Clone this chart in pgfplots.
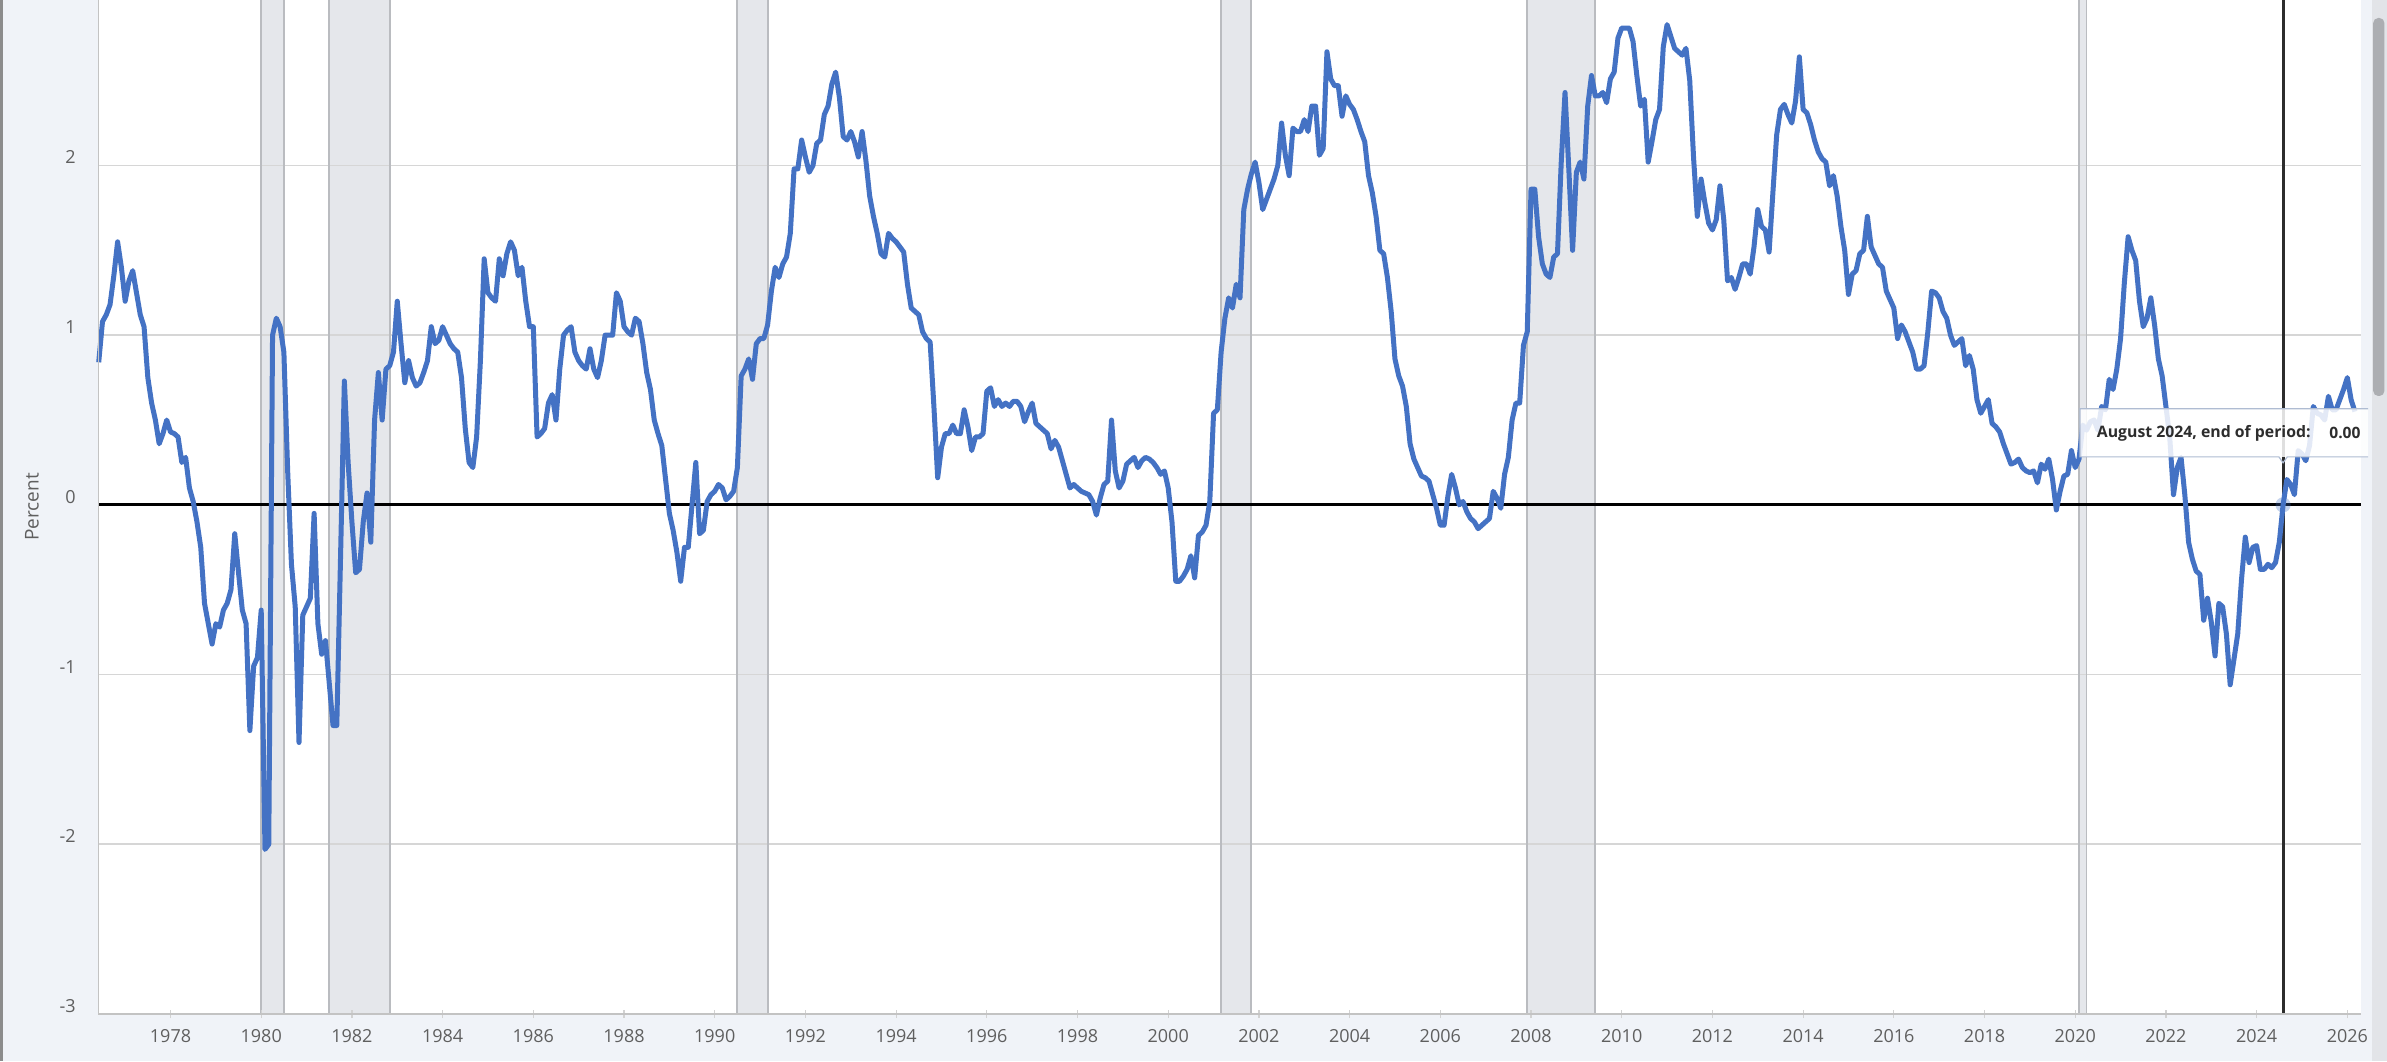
\documentclass[border=0pt]{standalone}
\usepackage{fontspec}
\setmainfont{Open Sans}
\usepackage{pgfplots}
\usepackage{pgfplotstable}
\pgfplotsset{compat=1.18}
\definecolor{bgcol}{RGB}{240,243,248}
\definecolor{lineblue}{RGB}{68,114,196}
\definecolor{gridcol}{RGB}{214,214,214}
\definecolor{recfill}{RGB}{229,231,235}
\definecolor{recline}{RGB}{186,188,192}
\definecolor{axcol}{RGB}{195,195,195}
\definecolor{labcol}{RGB}{95,95,95}
\definecolor{ttborder}{RGB}{175,188,210}
\definecolor{tttext}{RGB}{45,45,45}
\definecolor{hovercol}{RGB}{45,45,45}
\definecolor{thumbcol}{RGB}{172,174,178}
\definecolor{trackcol}{RGB}{226,228,232}
\definecolor{edgecol}{RGB}{140,140,140}

% monthly values, June 1976 onward
\pgfplotstableread[row sep=\\]{
v\\
0.84\\1.08\\1.12\\1.18\\1.35\\1.55\\1.40\\
1.20\\1.32\\1.38\\1.25\\1.12\\1.05\\0.75\\0.60\\0.50\\0.36\\0.42\\0.50\\
0.43\\0.42\\0.40\\0.25\\0.28\\0.10\\0.02\\-0.10\\-0.25\\-0.58\\-0.70\\-0.82\\
-0.70\\-0.72\\-0.62\\-0.58\\-0.50\\-0.17\\-0.40\\-0.62\\-0.70\\-1.33\\-0.95\\-0.90\\
-0.62\\-2.03\\-2.00\\1.00\\1.10\\1.05\\0.90\\0.20\\-0.35\\-0.60\\-1.40\\-0.65\\
-0.60\\-0.55\\-0.05\\-0.70\\-0.88\\-0.80\\-1.05\\-1.30\\-1.30\\-0.30\\0.73\\0.25\\
-0.10\\-0.40\\-0.38\\-0.10\\0.07\\-0.22\\0.50\\0.78\\0.50\\0.80\\0.82\\0.90\\
1.20\\0.95\\0.72\\0.85\\0.75\\0.70\\0.72\\0.78\\0.85\\1.05\\0.95\\0.97\\
1.05\\1.00\\0.95\\0.92\\0.90\\0.75\\0.45\\0.25\\0.22\\0.40\\0.85\\1.45\\
1.25\\1.22\\1.20\\1.45\\1.35\\1.48\\1.55\\1.50\\1.35\\1.40\\1.20\\1.05\\
1.05\\0.40\\0.42\\0.45\\0.60\\0.65\\0.50\\0.80\\1.00\\1.03\\1.05\\0.90\\
0.85\\0.82\\0.80\\0.92\\0.80\\0.75\\0.85\\1.00\\1.00\\1.00\\1.25\\1.20\\
1.05\\1.02\\1.00\\1.10\\1.08\\0.95\\0.78\\0.68\\0.50\\0.42\\0.35\\0.15\\
-0.05\\-0.15\\-0.28\\-0.45\\-0.25\\-0.25\\0.00\\0.25\\-0.17\\-0.15\\0.02\\0.06\\
0.08\\0.12\\0.10\\0.03\\0.05\\0.08\\0.22\\0.76\\0.80\\0.86\\0.74\\0.95\\
0.98\\0.98\\1.06\\1.26\\1.40\\1.34\\1.42\\1.46\\1.60\\1.98\\1.98\\2.15\\
2.05\\1.96\\2.00\\2.13\\2.15\\2.30\\2.35\\2.48\\2.55\\2.40\\2.17\\2.15\\
2.20\\2.14\\2.05\\2.20\\2.03\\1.82\\1.70\\1.60\\1.48\\1.46\\1.60\\1.57\\
1.55\\1.52\\1.49\\1.30\\1.16\\1.14\\1.12\\1.02\\0.98\\0.96\\0.58\\0.16\\
0.34\\0.42\\0.42\\0.47\\0.42\\0.42\\0.56\\0.46\\0.32\\0.40\\0.40\\0.42\\
0.67\\0.69\\0.58\\0.62\\0.58\\0.60\\0.58\\0.61\\0.61\\0.58\\0.49\\0.55\\
0.60\\0.48\\0.46\\0.44\\0.42\\0.33\\0.38\\0.34\\0.26\\0.18\\0.10\\0.12\\
0.10\\0.08\\0.07\\0.06\\0.02\\-0.06\\0.04\\0.12\\0.14\\0.50\\0.20\\0.10\\
0.14\\0.24\\0.26\\0.28\\0.22\\0.26\\0.28\\0.27\\0.25\\0.22\\0.18\\0.20\\
0.10\\-0.10\\-0.45\\-0.45\\-0.42\\-0.38\\-0.30\\-0.43\\-0.18\\-0.16\\-0.12\\0.02\\
0.54\\0.56\\0.90\\1.10\\1.22\\1.16\\1.30\\1.22\\1.74\\1.86\\1.95\\2.02\\
1.90\\1.74\\1.80\\1.86\\1.92\\2.00\\2.25\\2.06\\1.94\\2.22\\2.20\\2.20\\
2.27\\2.20\\2.35\\2.35\\2.06\\2.10\\2.67\\2.51\\2.47\\2.47\\2.29\\2.41\\
2.36\\2.33\\2.27\\2.20\\2.14\\1.94\\1.84\\1.70\\1.50\\1.48\\1.34\\1.14\\
0.86\\0.76\\0.70\\0.58\\0.36\\0.27\\0.22\\0.17\\0.16\\0.14\\0.06\\-0.02\\
-0.12\\-0.12\\0.05\\0.18\\0.10\\0.00\\0.02\\-0.04\\-0.08\\-0.10\\-0.14\\-0.12\\
-0.10\\-0.08\\0.08\\0.04\\-0.02\\0.18\\0.28\\0.50\\0.60\\0.60\\0.94\\1.02\\
1.86\\1.86\\1.58\\1.42\\1.36\\1.34\\1.46\\1.48\\2.02\\2.43\\1.98\\1.50\\
1.96\\2.02\\1.92\\2.35\\2.53\\2.41\\2.41\\2.43\\2.37\\2.51\\2.55\\2.75\\
2.81\\2.81\\2.81\\2.73\\2.53\\2.35\\2.39\\2.02\\2.14\\2.27\\2.33\\2.70\\
2.83\\2.76\\2.69\\2.67\\2.65\\2.69\\2.50\\2.05\\1.70\\1.92\\1.78\\1.66\\
1.62\\1.68\\1.88\\1.68\\1.32\\1.34\\1.27\\1.34\\1.42\\1.42\\1.36\\1.52\\
1.74\\1.64\\1.62\\1.49\\1.84\\2.18\\2.33\\2.36\\2.30\\2.25\\2.38\\2.64\\
2.33\\2.31\\2.24\\2.15\\2.08\\2.04\\2.02\\1.88\\1.94\\1.82\\1.64\\1.50\\
1.24\\1.36\\1.38\\1.48\\1.50\\1.70\\1.52\\1.47\\1.42\\1.40\\1.26\\1.21\\
1.16\\0.98\\1.06\\1.02\\0.96\\0.90\\0.80\\0.80\\0.82\\1.02\\1.26\\1.25\\
1.22\\1.14\\1.10\\1.00\\0.94\\0.96\\0.98\\0.82\\0.88\\0.80\\0.62\\0.54\\
0.58\\0.62\\0.48\\0.46\\0.43\\0.36\\0.30\\0.24\\0.25\\0.27\\0.22\\0.20\\
0.19\\0.20\\0.13\\0.24\\0.21\\0.27\\0.15\\-0.03\\0.08\\0.17\\0.18\\0.32\\
0.22\\0.27\\0.47\\0.44\\0.49\\0.50\\0.44\\0.58\\0.56\\0.74\\0.68\\0.80\\
0.98\\1.31\\1.58\\1.50\\1.44\\1.20\\1.05\\1.10\\1.22\\1.06\\0.86\\0.76\\
0.58\\0.40\\0.06\\0.22\\0.28\\0.06\\-0.22\\-0.32\\-0.39\\-0.41\\-0.68\\-0.55\\
-0.69\\-0.89\\-0.58\\-0.60\\-0.76\\-1.06\\-0.91\\-0.76\\-0.44\\-0.19\\-0.34\\-0.25\\
-0.24\\-0.38\\-0.38\\-0.35\\-0.37\\-0.34\\-0.22\\0.00\\0.15\\0.12\\0.06\\0.32\\
0.30\\0.26\\0.35\\0.58\\0.54\\0.53\\0.50\\0.64\\0.56\\0.56\\0.62\\0.68\\
0.75\\0.62\\0.55\\
}\spread

\begin{document}
\begin{tikzpicture}
% page background (screen frame)
\fill[bgcol] (0,0) rectangle (1193.5pt,530.5pt);
\fill[edgecol] (0,0) rectangle (1.4pt,530.5pt);
\fill[trackcol] (1186pt,0) rectangle (1193.5pt,530.5pt);
\fill[thumbcol, rounded corners=2.5pt] (1186.6pt,332.5pt) rectangle (1192.2pt,521.5pt);
% plot area
\fill[white] (49.25pt,23.5pt) rectangle (1180.5pt,530.5pt);
\begin{axis}[
  at={(49.25pt,23.5pt)}, anchor=south west,
  scale only axis, width=1131.25pt, height=507pt,
  xmin=1976.412, xmax=2026.302, ymin=-3, ymax=2.975,
  clip=false,
  axis on top,
  axis x line*=bottom, axis y line*=left,
  axis line style={draw=axcol, line width=0.9pt},
  ytick={-3,-2,-1,0,1,2},
  yticklabels={-3,-2,-1,0,1,2},
  xtick={1978,1980,...,2026},
  xticklabels={1978,1980,1982,1984,1986,1988,1990,1992,1994,1996,1998,2000,2002,2004,2006,2008,2010,2012,2014,2016,2018,2020,2022,2024,2026},
  ytick style={draw=none},
  xtick style={draw={rgb,255:red,210;green,210;blue,210}, line width=0.6pt},
  major tick length=4pt, tick align=center,
  tick label style={font=\fontsize{9}{10}\selectfont, text=labcol},
  yticklabel style={anchor=east, inner sep=0pt, xshift=-9.2pt, yshift=4pt},
  xticklabel style={anchor=center, inner sep=0pt, yshift=-8.9pt},
  ylabel={Percent},
  every axis y label/.style={at={(axis description cs:0,0.5)}, xshift=-33.25pt, rotate=90, anchor=center, font=\fontsize{9.5}{11}\selectfont, text=labcol},
]
% recession shading
\addplot[fill=recfill, draw=none] coordinates {(1980,-3)(1980,2.975)(1980.5,2.975)(1980.5,-3)} -- cycle;
\addplot[fill=recfill, draw=none] coordinates {(1981.5,-3)(1981.5,2.975)(1982.833,2.975)(1982.833,-3)} -- cycle;
\addplot[fill=recfill, draw=none] coordinates {(1990.5,-3)(1990.5,2.975)(1991.167,2.975)(1991.167,-3)} -- cycle;
\addplot[fill=recfill, draw=none] coordinates {(2001.167,-3)(2001.167,2.975)(2001.833,2.975)(2001.833,-3)} -- cycle;
\addplot[fill=recfill, draw=none] coordinates {(2007.917,-3)(2007.917,2.975)(2009.417,2.975)(2009.417,-3)} -- cycle;
\addplot[fill=recfill, draw=none] coordinates {(2020.083,-3)(2020.083,2.975)(2020.25,2.975)(2020.25,-3)} -- cycle;
% horizontal grid lines
\addplot[gridcol, line width=0.9pt, unbounded coords=jump] coordinates {
 (1976.412,-2)(2026.302,-2) (nan,nan)
 (1976.412,-1)(2026.302,-1) (nan,nan)
 (1976.412,1)(2026.302,1) (nan,nan)
 (1976.412,2)(2026.302,2)};
% recession borders
\addplot[recline, line width=0.9pt, unbounded coords=jump] coordinates {
 (1980,-3)(1980,2.975) (nan,nan) (1980.5,-3)(1980.5,2.975) (nan,nan)
 (1981.5,-3)(1981.5,2.975) (nan,nan) (1982.833,-3)(1982.833,2.975) (nan,nan)
 (1990.5,-3)(1990.5,2.975) (nan,nan) (1991.167,-3)(1991.167,2.975) (nan,nan)
 (2001.167,-3)(2001.167,2.975) (nan,nan) (2001.833,-3)(2001.833,2.975) (nan,nan)
 (2007.917,-3)(2007.917,2.975) (nan,nan) (2009.417,-3)(2009.417,2.975) (nan,nan)
 (2020.083,-3)(2020.083,2.975) (nan,nan) (2020.25,-3)(2020.25,2.975)};
% zero line
\addplot[black, line width=1.6pt] coordinates {(1976.412,0)(2026.302,0)};
% hover line
\addplot[hovercol, line width=1.5pt] coordinates {(2024.583,-3)(2024.583,2.975)};
% data
\addplot[lineblue, line width=2.5pt, line join=round] table[x expr={1976.41667+\coordindex/12}, y=v] {\spread};
% hover marker
\addplot[only marks, mark=*, mark size=3.8pt, mark options={fill=lineblue, fill opacity=0.3, draw opacity=0}] coordinates {(2024.583,0)};
% tooltip
\fill[white, fill opacity=0.85] (axis cs:2020.106,0.283) rectangle (axis cs:2026.457,0.566);
\draw[ttborder, line width=0.6pt] (axis cs:2026.457,0.566) -- (axis cs:2020.106,0.566) -- (axis cs:2020.106,0.283) -- (axis cs:2024.49,0.283) -- (axis cs:2024.583,0.248) -- (axis cs:2024.676,0.283) -- (axis cs:2026.457,0.283);
\node[anchor=west, inner sep=0pt, text=tttext, font=\bfseries\fontsize{7.9}{8.5}\selectfont] at (axis cs:2020.47,0.424) {August 2024, end of period:};
\node[anchor=east, inner sep=0pt, text=tttext, font=\bfseries\fontsize{7.8}{8.5}\selectfont] at (axis cs:2026.30,0.424) {0.00};
\end{axis}
\pgfresetboundingbox
\path[use as bounding box] (0,0) rectangle (1193.5pt,530.5pt);
\end{tikzpicture}
\end{document}
